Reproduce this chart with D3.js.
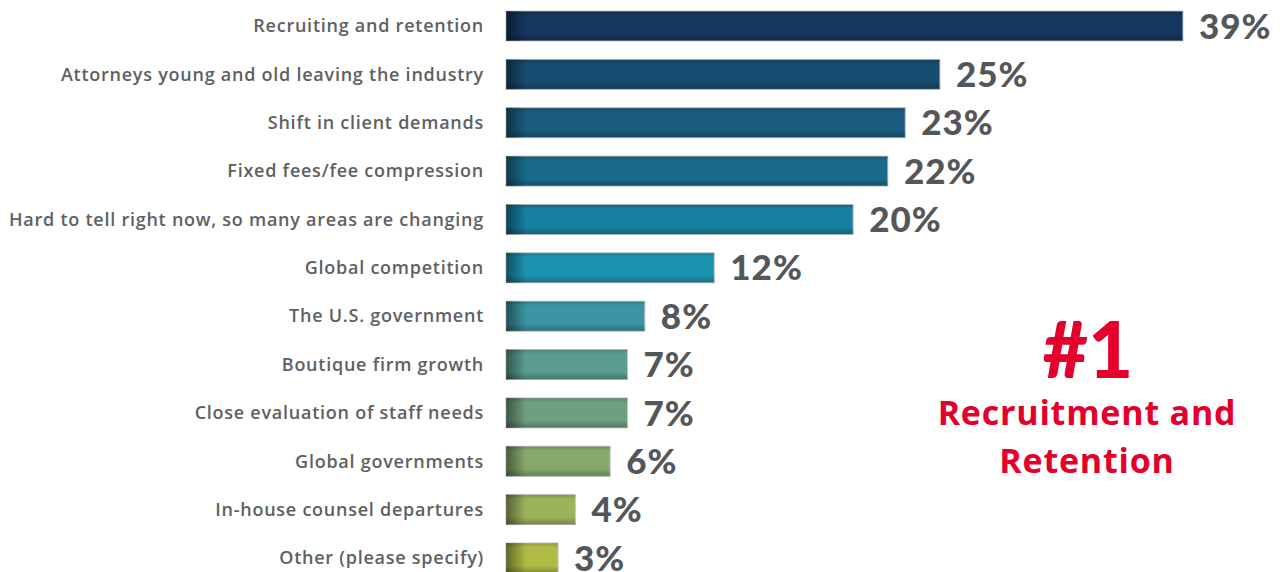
<!DOCTYPE html>
<html>
<head>
<meta charset="utf-8">
<script src="https://cdn.jsdelivr.net/npm/d3@7"></script>
<style>
  html, body { margin: 0; padding: 0; background: #ffffff; }
  svg { display: block; }
</style>
</head>
<body>
<div id="chart"></div>
<script>
// Survey responses: biggest challenges facing firms
const categories = [
  "Recruiting and retention",
  "Attorneys young and old leaving the industry",
  "Shift in client demands",
  "Fixed fees/fee compression",
  "Hard to tell right now, so many areas are changing",
  "Global competition",
  "The U.S. government",
  "Boutique firm growth",
  "Close evaluation of staff needs",
  "Global governments",
  "In-house counsel departures",
  "Other (please specify)"
];
const values = [39, 25, 23, 22, 20, 12, 8, 7, 7, 6, 4, 3];
const barColors = [
  "#15365f", "#174b6f", "#1a5b7d", "#196a8b", "#167f9f", "#1a93b1",
  "#3a94a1", "#5a9d90", "#6e9f7e", "#86a96b", "#9bb35a", "#b0bb45"
];
const calloutLines = ["#1", "Recruitment and", "Retention"];

const W = 1283, H = 572;
const svg = d3.select("#chart").append("svg")
  .attr("width", W).attr("height", H);

const defs = svg.append("defs");
// dark shading on the left end of each bar
const lg = defs.append("linearGradient").attr("id", "leftShade")
  .attr("x1", "0").attr("x2", "1").attr("y1", "0").attr("y2", "0");
lg.append("stop").attr("offset", "0").attr("stop-color", "#000").attr("stop-opacity", 0.45);
lg.append("stop").attr("offset", "0.45").attr("stop-color", "#000").attr("stop-opacity", 0.25);
lg.append("stop").attr("offset", "1").attr("stop-color", "#000").attr("stop-opacity", 0);
// darker top and bottom edges
const vg = defs.append("linearGradient").attr("id", "edgeShade")
  .attr("x1", "0").attr("x2", "0").attr("y1", "0").attr("y2", "1");
vg.append("stop").attr("offset", "0").attr("stop-color", "#000").attr("stop-opacity", 0.18);
vg.append("stop").attr("offset", "0.15").attr("stop-color", "#000").attr("stop-opacity", 0);
vg.append("stop").attr("offset", "0.75").attr("stop-color", "#000").attr("stop-opacity", 0);
vg.append("stop").attr("offset", "1").attr("stop-color", "#000").attr("stop-opacity", 0.25);

const x = d3.scaleLinear().domain([0, 39]).range([506, 1183]);
const y = d3.scaleBand().domain(categories).range([11, 573])
  .paddingInner(0.38).paddingOuter(0);

const data = categories.map((c, i) => ({ c, v: values[i], col: barColors[i] }));

const rows = svg.append("g").selectAll("g").data(data).join("g");

rows.append("rect")
  .attr("x", x(0)).attr("y", d => y(d.c))
  .attr("width", d => x(d.v) - x(0)).attr("height", y.bandwidth())
  .attr("fill", d => d.col)
  .attr("stroke", "#c9c9c9").attr("stroke-width", 1);

rows.append("rect")
  .attr("x", x(0)).attr("y", d => y(d.c))
  .attr("width", d => x(d.v) - x(0)).attr("height", y.bandwidth())
  .attr("fill", "url(#edgeShade)");

rows.append("rect")
  .attr("x", x(0)).attr("y", d => y(d.c))
  .attr("width", 20).attr("height", y.bandwidth())
  .attr("fill", "url(#leftShade)");

// category labels
rows.append("text")
  .attr("x", 484).attr("y", d => y(d.c) + y.bandwidth() / 2)
  .attr("dy", "0.35em")
  .attr("text-anchor", "end")
  .attr("font-family", "'Open Sans', sans-serif")
  .attr("font-weight", 600)
  .attr("font-size", 18)
  .attr("letter-spacing", 0.75)
  .attr("fill", "#5e6062")
  .text(d => d.c);

// value labels
rows.append("text")
  .attr("x", d => x(d.v) + 16).attr("y", d => y(d.c) + y.bandwidth() / 2)
  .attr("dy", "0.36em")
  .attr("font-family", "Lato, sans-serif")
  .attr("font-weight", 900)
  .attr("font-size", 35)
  .attr("letter-spacing", 1)
  .attr("fill", "#54575a")
  .text(d => d.v + "%");

// callout
const callout = svg.append("g").attr("fill", "#e4002b")
  .attr("text-anchor", "middle");
callout.append("text").attr("x", 1088).attr("y", 378)
  .attr("font-family", "Lato, sans-serif")
  .attr("font-weight", 900).attr("font-size", 78).text(calloutLines[0]);
callout.append("text").attr("x", 1087).attr("y", 425)
  .attr("font-family", "'Open Sans', sans-serif")
  .attr("font-weight", 700).attr("font-size", 34).attr("letter-spacing", 0.8)
  .text(calloutLines[1]);
callout.append("text").attr("x", 1087).attr("y", 473)
  .attr("font-family", "'Open Sans', sans-serif")
  .attr("font-weight", 700).attr("font-size", 34).attr("letter-spacing", 0.8)
  .text(calloutLines[2]);
</script>
</body>
</html>
